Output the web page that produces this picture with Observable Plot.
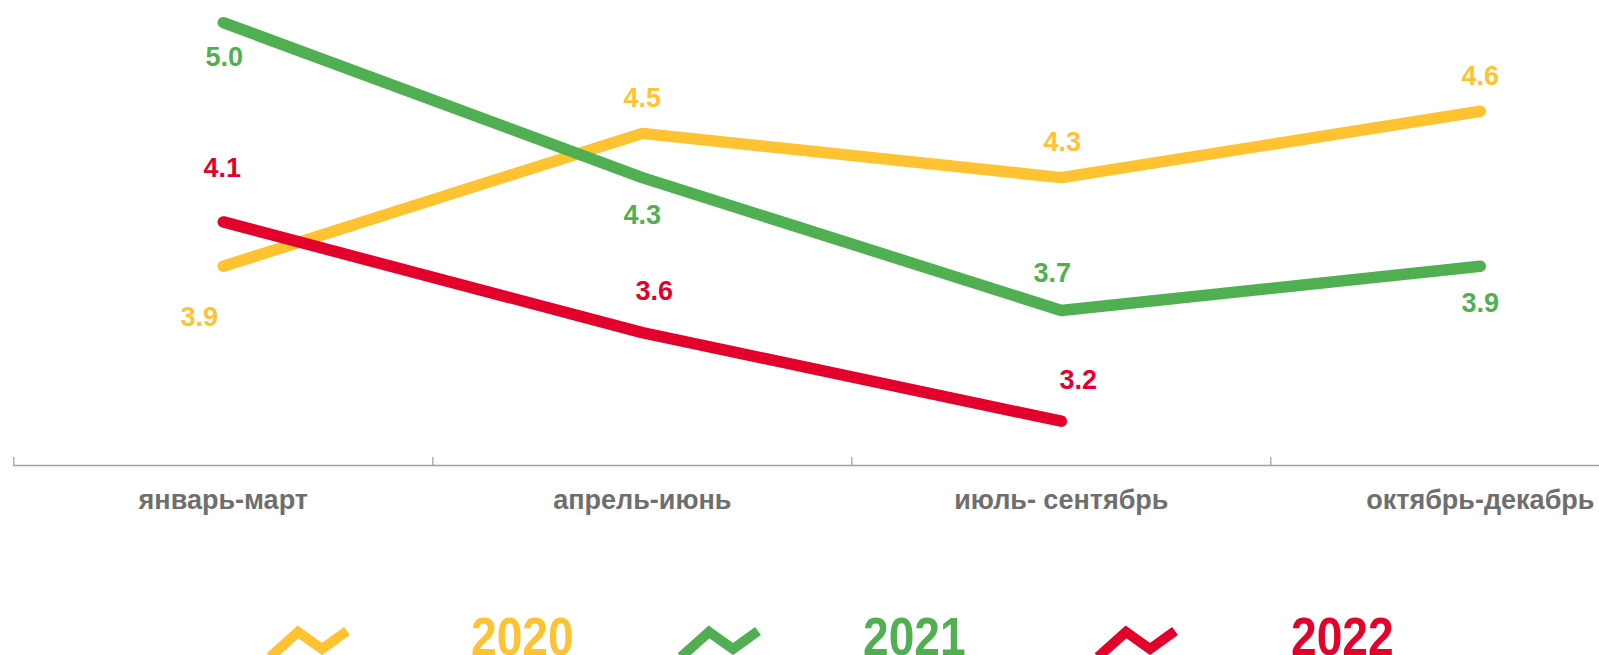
<!DOCTYPE html>
<html>
<head>
<meta charset="utf-8">
<script src="https://cdn.jsdelivr.net/npm/d3@7"></script>
<script src="https://cdn.jsdelivr.net/npm/@observablehq/plot@0.6"></script>
<style>
  html, body { margin: 0; padding: 0; background: #fff; overflow: hidden; width: 1599px; height: 655px; }
  #chart svg { display: block; overflow: hidden; }
  #legend { display: block; }
</style>
</head>
<body>
<div id="chart"></div>
<div id="legendWrap"></div>
<script>
// ---- data ----
const categories = ["январь-март", "апрель-июнь", "июль- сентябрь", "октябрь-декабрь"];
const years = ["2020", "2021", "2022"];
const values2020 = [3.9, 4.5, 4.3, 4.6];
const values2021 = [5.0, 4.3, 3.7, 3.9];
const values2022 = [4.1, 3.6, 3.2];
const colors = ["#FFC230", "#50AF50", "#E3002B"];

// label placement (dx, baseline offset in px) per year, per quarter
const labelOffsets = {
  "2020": [[-24, 60], [0, -26], [1, -27], [0, -26]],
  "2021": [[1, 43], [0, 46], [-9, -29], [0, 46]],
  "2022": [[-1, -45], [12, -33], [17, -32]]
};

const series = [values2020, values2021, values2022];
const rows = [];
series.forEach((vals, s) => vals.forEach((v, i) => rows.push({year: years[s], i, cat: categories[i], value: v})));

const fontFamily = "'Liberation Sans', Arial, sans-serif";
const labelSize = 27;

const labelMarks = rows.map(r => {
  const [dx, base] = labelOffsets[r.year][r.i];
  return Plot.text([r], {
    x: d => d.i + 0.5, y: "value",
    text: d => d.value.toFixed(1),
    fill: colors[years.indexOf(r.year)],
    fontSize: labelSize, fontWeight: "bold",
    dx, dy: base - 0.32 * labelSize
  });
});

const chart = Plot.plot({
  width: 1599,
  height: 530,
  marginTop: 0,
  marginBottom: 65,
  marginLeft: 13,
  marginRight: 0,
  style: {fontFamily, background: "#fff"},
  x: {domain: [0, categories.length], range: [13.3, 1689.3]},
  y: {domain: [3, 5.1], axis: null},
  color: {domain: years, range: colors},
  marks: [
    Plot.ruleY([3], {stroke: "#a0a0a0", strokeWidth: 1.3}),
    Plot.axisX(d3.range(categories.length), {tickSize: -8, tickFormat: () => "", stroke: "#a0a0a0", strokeWidth: 1.2}),
    Plot.axisX(d3.range(categories.length).map(i => i + 0.5), {
      tickSize: 0, tickPadding: 24,
      tickFormat: d => categories[Math.floor(d)],
      fontSize: 27, fontWeight: "bold", color: "#6e6e6e"
    }),
    Plot.line(rows, {x: d => d.i + 0.5, y: "value", z: "year", stroke: "year", strokeWidth: 11.5, strokeLinecap: "round", strokeLinejoin: "miter"}),
    ...labelMarks
  ]
});
document.getElementById("chart").appendChild(chart);

// ---- legend ----
const legendX = [270, 681, 1098];
const legendTextX = [471, 863, 1291];
const legend = d3.select("#legendWrap").append("svg")
  .attr("id", "legend")
  .attr("width", 1599).attr("height", 125)
  .style("overflow", "hidden");
const zig = [[0, 27], [28, 2], [52, 19], [77, 1]];
years.forEach((y, k) => {
  legend.append("polyline")
    .attr("points", zig.map(([a, b]) => `${legendX[k] + a},${100 + b}`).join(" "))
    .attr("fill", "none")
    .attr("stroke", colors[k])
    .attr("stroke-width", 10)
    .attr("stroke-linecap", "butt")
    .attr("stroke-linejoin", "miter");
  legend.append("text")
    .attr("transform", `translate(${legendTextX[k]},124.5) scale(0.87,1)`)
    .attr("font-family", fontFamily)
    .attr("font-weight", "bold")
    .attr("font-size", 53)
    .attr("fill", colors[k])
    .text(y);
});
</script>
</body>
</html>
